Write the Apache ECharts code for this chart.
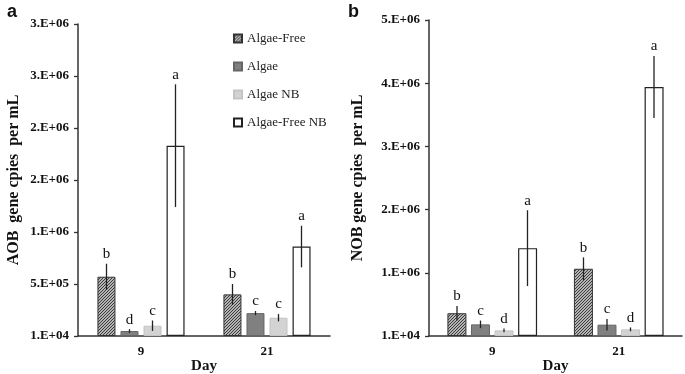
<!DOCTYPE html>
<html>
<head>
<meta charset="utf-8">
<script src="https://cdn.jsdelivr.net/npm/echarts@6/dist/echarts.min.js"></script>
<style>
  html, body { margin: 0; padding: 0; background: #fff; }
  #chart { width: 685px; height: 374px; }
</style>
</head>
<body>
<div id="chart"></div>
<script>
// categories and series
const days = ['9', '21'];
const names = ['Algae-Free', 'Algae', 'Algae NB', 'Algae-Free NB'];

// panel a: AOB gene copies per mL (day 9, day 21)
const aobFree = [570000, 400000];
const aobAlgae = [48000, 220000];
const aobAlgaeNB = [99000, 176000];
const aobFreeNB = [1830000, 860000];
const aobFreeErr = [125000, 100000];
const aobAlgaeErr = [18000, 20000];
const aobAlgaeNBErr = [50000, 35000];
const aobFreeNBErr = [590000, 200000];
const aobLetters = [['b', 'b'], ['d', 'c'], ['c', 'c'], ['a', 'a']];

// panel b: NOB gene copies per mL (day 9, day 21)
const nobFree = [360000, 1064000];
const nobAlgae = [184000, 179000];
const nobAlgaeNB = [89000, 105000];
const nobFreeNB = [1390000, 3940000];
const nobFreeErr = [115000, 180000];
const nobAlgaeErr = [60000, 90000];
const nobAlgaeNBErr = [30000, 30000];
const nobFreeNBErr = [600000, 490000];
const nobLetters = [['b', 'b'], ['c', 'c'], ['d', 'd'], ['a', 'a']];

// tick labels as printed in the figure
const aobTicks = ['1.E+04', '5.E+05', '1.E+06', '2.E+06', '2.E+06', '3.E+06', '3.E+06'];
const nobTicks = ['1.E+04', '1.E+06', '2.E+06', '3.E+06', '4.E+06', '5.E+06'];

// hatched fill for the Algae-Free bars
const hatch = document.createElement('canvas');
hatch.width = 3; hatch.height = 3;
const hc = hatch.getContext('2d');
hc.fillStyle = '#b4b4b4';
hc.fillRect(0, 0, 3, 3);
hc.strokeStyle = '#3c3c3c';
hc.lineWidth = 1;
hc.beginPath();
hc.moveTo(0, 3); hc.lineTo(3, 0);
hc.moveTo(-1, 1); hc.lineTo(1, -1);
hc.moveTo(2, 4); hc.lineTo(4, 2);
hc.stroke();

const styles = [
  { color: { image: hatch, repeat: 'repeat' }, borderColor: '#333', borderWidth: 1 },
  { color: '#808080', borderColor: '#666', borderWidth: 1 },
  { color: '#d3d3d3', borderColor: '#c4c4c4', borderWidth: 1 },
  { color: '#ffffff', borderColor: '#222', borderWidth: 1.2 }
];

const serif = '"Liberation Serif", "Times New Roman", serif';

function barSeries(means, axis, width, gap) {
  return means.map((vals, i) => ({
    name: names[i],
    type: 'bar',
    xAxisIndex: axis,
    yAxisIndex: axis,
    data: vals,
    barWidth: width,
    barGap: gap,
    itemStyle: styles[i],
    animation: false
  }));
}

function errorSeries(means, errs, letters, axis, step) {
  const data = [];
  const text = [];
  means.forEach((vals, s) => {
    vals.forEach((v, d) => {
      data.push([d, v, errs[s][d], s]);
      text.push(letters[s][d]);
    });
  });
  return {
    type: 'custom',
    xAxisIndex: axis,
    yAxisIndex: axis,
    data: data,
    z: 5,
    animation: false,
    renderItem: function (params, api) {
      const cat = api.value(0), m = api.value(1), e = api.value(2), s = api.value(3);
      const top = api.coord([cat, m + e]);
      const bot = api.coord([cat, Math.max(m - e, 0)]);
      const x = top[0] + (s - 1.5) * step;
      return {
        type: 'group',
        children: [
          { type: 'line', shape: { x1: x, y1: top[1], x2: x, y2: bot[1] },
            style: { stroke: '#222', lineWidth: 1.3 } },
          { type: 'text', x: x, y: top[1] - 2,
            style: { text: text[params.dataIndex], align: 'center', verticalAlign: 'bottom',
                     font: '15px ' + serif, fill: '#111' } }
        ]
      };
    }
  };
}

function yAxis(max, interval, ticks, name, gap) {
  return {
    type: 'value',
    min: 0,
    max: max,
    interval: interval,
    name: name,
    nameLocation: 'middle',
    nameGap: gap,
    nameTextStyle: { fontFamily: serif, fontWeight: 'bold', fontSize: 16, color: '#111' },
    axisLine: { show: true, lineStyle: { color: '#333', width: 1.5 } },
    axisTick: { show: true, length: 4, lineStyle: { color: '#333', width: 1.3 } },
    splitLine: { show: false },
    axisLabel: {
      margin: 9,
      fontFamily: serif, fontWeight: 'bold', fontSize: 13, color: '#111',
      formatter: v => ticks[Math.round(v / interval)]
    }
  };
}

function xAxis(grid) {
  return {
    type: 'category',
    gridIndex: grid,
    data: days,
    name: 'Day',
    nameLocation: 'middle',
    nameGap: 23,
    nameMoveOverlap: false,
    nameTextStyle: { fontFamily: serif, fontWeight: 'bold', fontSize: 15, color: '#111' },
    axisLine: { lineStyle: { color: '#333', width: 1.5 } },
    axisTick: { show: false },
    axisLabel: { margin: 9, fontFamily: serif, fontWeight: 'bold', fontSize: 13, color: '#111' }
  };
}

const chart = echarts.init(document.getElementById('chart'));
const ya = yAxis(3000000, 500000, aobTicks, 'AOB  gene cpies  per mL', 56);
const yb = yAxis(5000000, 1000000, nobTicks, 'NOB gene cpies  per mL', 63);
yb.gridIndex = 1;

chart.setOption({
  backgroundColor: '#fff',
  title: [
    { text: 'a', left: 2, top: -2, textStyle: { fontFamily: '"Liberation Sans", Arial, sans-serif', fontWeight: 'bold', fontSize: 18, color: '#111' } },
    { text: 'b', left: 343, top: -2, textStyle: { fontFamily: '"Liberation Sans", Arial, sans-serif', fontWeight: 'bold', fontSize: 18, color: '#111' } }
  ],
  legend: {
    data: names.map(n => ({ name: n, icon: 'rect' })),
    orient: 'vertical',
    left: 228,
    top: 26,
    itemWidth: 8,
    itemHeight: 8,
    itemGap: 13,
    textStyle: { fontFamily: serif, fontSize: 13, color: '#222', lineHeight: 15 }
  },
  grid: [
    { left: 78, right: 355, top: 24, bottom: 38, outerBoundsMode: 'none' },
    { left: 429, right: 3, top: 20, bottom: 38, outerBoundsMode: 'none' }
  ],
  xAxis: [xAxis(0), xAxis(1)],
  yAxis: [ya, yb],
  series: [
    ...barSeries([aobFree, aobAlgae, aobAlgaeNB, aobFreeNB], 0, 18, '28%'),
    ...barSeries([nobFree, nobAlgae, nobAlgaeNB, nobFreeNB], 1, 19, '24%'),
    errorSeries([aobFree, aobAlgae, aobAlgaeNB, aobFreeNB],
                [aobFreeErr, aobAlgaeErr, aobAlgaeNBErr, aobFreeNBErr], aobLetters, 0, 23),
    errorSeries([nobFree, nobAlgae, nobAlgaeNB, nobFreeNB],
                [nobFreeErr, nobAlgaeErr, nobAlgaeNBErr, nobFreeNBErr], nobLetters, 1, 23.5)
  ]
});
</script>
</body>
</html>
